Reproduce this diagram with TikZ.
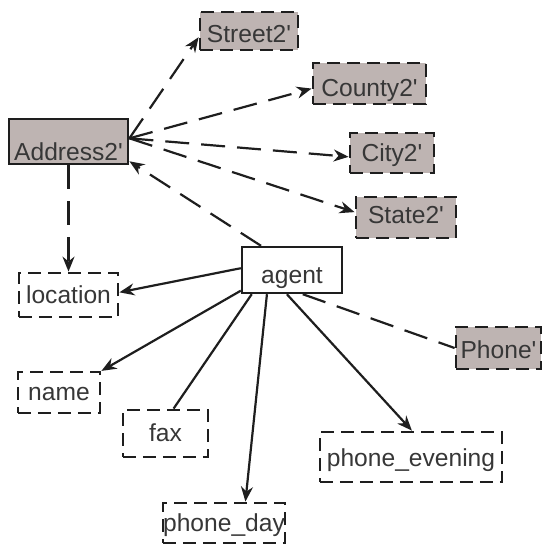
\documentclass[tikz,border=0pt]{standalone}
\usepackage{fontspec}
\setmainfont{Liberation Sans}
\usetikzlibrary{arrows.meta}

\definecolor{boxfill}{RGB}{190,180,178}
\definecolor{inkline}{RGB}{30,30,30}
\definecolor{inktext}{RGB}{55,55,55}

\begin{document}
\begin{tikzpicture}[x=0.5pt,y=-0.5pt,
    every node/.style={font=\fontsize{12.3}{14}\selectfont, text=inktext, inner sep=0pt, text depth=0pt},
    attr/.style={draw=inkline, line width=1.4pt, dash pattern=on 6.5pt off 3.5pt},
    solidbox/.style={draw=inkline, line width=1.2pt},
    shaded/.style={fill=boxfill},
    link/.style={draw=inkline, line width=1.1pt, -{Stealth[length=7.5pt,width=6pt]}},
    plain/.style={draw=inkline, line width=1.1pt},
    ref/.style={link, dash pattern=on 12pt off 6pt}]
    \useasboundingbox (0,0) rectangle (544,548);

    % Address part and its fields
    \node[solidbox, shaded, line width=1.4pt, minimum width=59.5pt, minimum height=22.5pt, text height=18.5pt] (address) at (68.5,141.5) {Address2\textquotesingle};
    \node[attr, shaded, minimum width=49pt, minimum height=19pt, text height=11pt] (street) at (249,31) {Street2\textquotesingle};
    \node[attr, shaded, minimum width=56.5pt, minimum height=20.5pt, text height=12.5pt] (county) at (369.5,83.5) {County2\textquotesingle};
    \node[attr, shaded, minimum width=42pt, minimum height=20pt, text height=8pt] (city) at (392,153) {City2\textquotesingle};
    \node[attr, shaded, minimum width=50pt, minimum height=20.5pt, text height=5.5pt] (state) at (406,217.5) {State2\textquotesingle};

    % Agent
    \node[solidbox, fill=white, minimum width=50pt, minimum height=23pt, text height=13pt] (agent) at (292,270) {agent};

    % Plain attributes
    \node[attr, minimum width=49.5pt, minimum height=22pt, text height=8pt] (location) at (68.5,295) {location};
    \node[attr, shaded, minimum width=42.5pt, minimum height=21pt, text height=10pt] (phone) at (498.5,348) {Phone\textquotesingle};
    \node[attr, minimum width=41pt, minimum height=20.5pt, text height=7.5pt] (name) at (59,392.5) {name};
    \node[attr, minimum width=42.5pt, minimum height=23.5pt, text height=7.5pt] (fax) at (165.5,433.5) {fax};
    \node[attr, minimum width=91pt, minimum height=25pt, text height=9pt] (evening) at (411,457) {phone\_evening};
    \node[attr, minimum width=61pt, minimum height=20pt, text height=8pt] (day) at (224,523) {phone\_day};

    % Address2' references
    \draw[ref] (address.3) -- (street.187);
    \draw[ref] (address.3) -- (county.185);
    \draw[ref] (address.3) -- (city.185);
    \draw[ref] (address.3) -- (state.174);
    \draw[ref] (agent.142) -- (address.-18);
    \draw[ref] (address.south) -- (address.south |- location.north);

    % agent attributes
    \draw[link] (agent.178) -- (location.3);
    \draw[link] (agent.202) -- (name.27);
    \draw[plain] (agent.211) -- (fax.72);
    \draw[link] (agent.224) -- (day.45);
    \draw[link] (agent.258) -- (evening.88);
    \draw[plain, dash pattern=on 12pt off 6pt] (agent.-66) -- (phone.west);
\end{tikzpicture}
\end{document}
